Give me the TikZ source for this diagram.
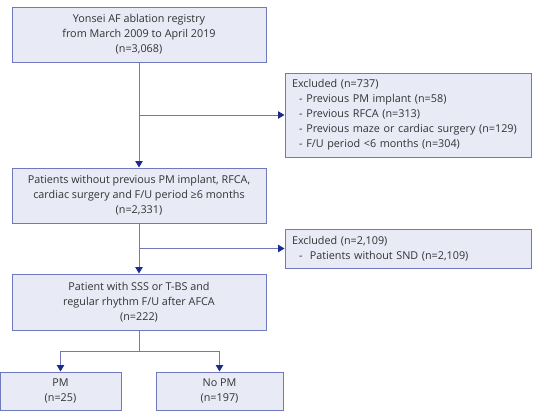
\documentclass[tikz,border=0pt]{standalone}
\usepackage{fontspec}
\setmainfont{Open Sans}
\usetikzlibrary{arrows.meta, positioning}
\definecolor{boxfill}{HTML}{E8EAF6}
\definecolor{boxline}{HTML}{7079BE}
\definecolor{tipnavy}{HTML}{1C2A8E}
\definecolor{txt}{HTML}{333333}

\begin{document}
\begin{tikzpicture}[
    x=1pt, y=-1pt,
    thick,
    flow box/.style={rectangle, fill=boxfill, draw=boxline, line width=1pt, align=center, inner sep=2pt, text=txt, font=\fontsize{10.8}{15}\selectfont},
    excl box/.style={flow box, align=left, text width=232pt},
    flow arrow/.style={draw=boxline, line width=1pt, -{Triangle[width=7.5pt, length=6.5pt, color=tipnavy]}},
    flow line/.style={draw=boxline, line width=1pt}
]
    \useasboundingbox (0,0) rectangle (533,416);

    % Nodes
    \node[flow box, minimum width=254pt, minimum height=55pt] (reg) at (139, 34.5)
        {Yonsei AF ablation registry\\from March 2009 to April 2019\\(n=3,068)};
    \node[excl box, minimum width=246pt, minimum height=84pt] (excl1) at (408, 115)
        {Excluded (n=737)\\
         \ \ - Previous PM implant (n=58)\\
         \ \ - Previous RFCA (n=313)\\
         \ \ - Previous maze or cardiac surgery (n=129)\\
         \ \ - F/U period <6 months (n=304)};
    \node[flow box, minimum width=254pt, minimum height=55pt] (sel) at (139, 195.5)
        {Patients without previous PM implant, RFCA,\\cardiac surgery and F/U period ≥6 months\\(n=2,331)};
    \node[excl box, minimum width=246pt, minimum height=39pt] (excl2) at (408, 248.5)
        {Excluded (n=2,109)\\
         \ \ -\ \ Patients without SND (n=2,109)};
    \node[flow box, minimum width=254pt, minimum height=56pt] (snd) at (139, 302)
        {Patient with SSS or T-BS and\\regular rhythm F/U after AFCA\\(n=222)};
    \node[flow box, minimum width=121pt, minimum height=38pt] (pm) at (60.5, 391)
        {PM\\(n=25)};
    \node[flow box, minimum width=127pt, minimum height=38pt] (nopm) at (219.5, 391)
        {No PM\\(n=197)};

    % Junctions
    \coordinate (j1) at (reg.south |- excl1.west);
    \coordinate (j2) at (sel.south |- excl2.west);
    \coordinate (sp) at (139, 351);

    % Edges
    \draw[flow arrow] (reg) -- (sel);
    \draw[flow arrow] (j1) -- (excl1);
    \draw[flow arrow] (sel) -- (snd);
    \draw[flow arrow] (j2) -- (excl2);
    \draw[flow line] (snd) -- (sp);
    \draw[flow arrow] (sp) -| (pm);
    \draw[flow arrow] (sp) -| (nopm);
\end{tikzpicture}
\end{document}
